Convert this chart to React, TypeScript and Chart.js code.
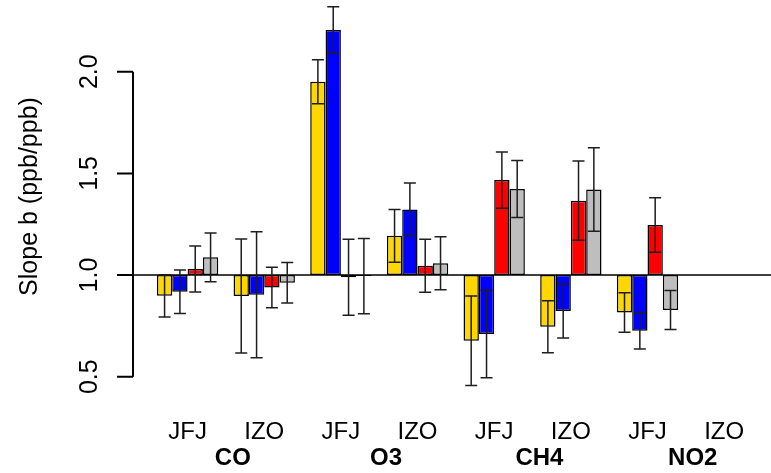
import React, { useEffect, useRef } from 'react';
import { Chart, registerables } from 'chart.js';

Chart.register(...registerables);

// ---- data ----
const stations = ['JFJ', 'IZO', 'JFJ', 'IZO', 'JFJ', 'IZO', 'JFJ', 'IZO'];
const species = ['CO', 'O3', 'CH4', 'NO2'];
const yTickValues = [0.5, 1.0, 1.5, 2.0];
const yTitle = 'Slope b (ppb/ppb)';
const baselineValue = 1.0;

const yellowSlope = [0.898, 0.897, 1.951, 1.193, 0.677, 0.746, 0.816, null];
const yellowErr = [0.104, 0.28, 0.108, 0.13, 0.22, 0.128, 0.097, null];
const blueSlope = [0.918, 0.903, 2.205, 1.323, 0.71, 0.823, 0.726, null];
const blueErr = [0.107, 0.31, 0.115, 0.13, 0.215, 0.133, 0.09, null];
const redSlope = [1.03, 0.939, 0.989, 1.046, 1.467, 1.366, 1.246, null];
const redErr = [0.113, 0.1, 0.187, 0.13, 0.138, 0.195, 0.134, null];
const greySlope = [1.087, 0.962, 0.995, 1.058, 1.423, 1.421, 0.828, null];
const greyErr = [0.12, 0.1, 0.185, 0.13, 0.14, 0.205, 0.096, null];

const seriesSlopes = [yellowSlope, blueSlope, redSlope, greySlope];
const seriesErrs = [yellowErr, blueErr, redErr, greyErr];
const seriesColors = ['#FFD700', '#0000FF', '#FF0000', '#BEBEBE'];

const FONT = "'Liberation Sans', Arial, Helvetica, sans-serif";

const overlayPlugin = {
  id: 'rOverlay',
  afterDatasetsDraw(chart: any) {
    const { ctx, chartArea } = chart;
    const xs = chart.scales.x;
    const ys = chart.scales.y;
    ctx.save();
    // reference line at 1.0
    const yb = ys.getPixelForValue(baselineValue);
    ctx.strokeStyle = '#000';
    ctx.lineWidth = 1.5;
    ctx.beginPath();
    ctx.moveTo(chartArea.left, yb);
    ctx.lineTo(chartArea.right, yb);
    ctx.stroke();
    // error bars
    ctx.strokeStyle = '#1e1e1e';
    ctx.lineWidth = 1.5;
    seriesSlopes.forEach((vals, di) => {
      const meta = chart.getDatasetMeta(di);
      vals.forEach((v, i) => {
        const e = seriesErrs[di][i];
        if (v == null || e == null) return;
        const el = meta.data[i];
        if (!el) return;
        const x = el.x;
        const yHi = ys.getPixelForValue(v + e);
        const yLo = ys.getPixelForValue(v - e);
        ctx.beginPath();
        ctx.moveTo(x, yHi);
        ctx.lineTo(x, yLo);
        ctx.moveTo(x - 6, yHi);
        ctx.lineTo(x + 6, yHi);
        ctx.moveTo(x - 6, yLo);
        ctx.lineTo(x + 6, yLo);
        ctx.stroke();
      });
    });
    ctx.restore();
  },
  afterDraw(chart: any) {
    const { ctx, chartArea } = chart;
    const xs = chart.scales.x;
    const ys = chart.scales.y;
    ctx.save();
    // y axis
    const ax = chartArea.left;
    const yTop = ys.getPixelForValue(yTickValues[yTickValues.length - 1]);
    const yBot = ys.getPixelForValue(yTickValues[0]);
    ctx.strokeStyle = '#000';
    ctx.lineWidth = 2;
    ctx.beginPath();
    ctx.moveTo(ax, yTop);
    ctx.lineTo(ax, yBot);
    yTickValues.forEach((t) => {
      const y = ys.getPixelForValue(t);
      ctx.moveTo(ax - 16, y);
      ctx.lineTo(ax, y);
    });
    ctx.stroke();
    ctx.fillStyle = '#000';
    ctx.font = `25px ${FONT}`;
    ctx.textAlign = 'center';
    ctx.textBaseline = 'alphabetic';
    yTickValues.forEach((t) => {
      const y = ys.getPixelForValue(t);
      ctx.save();
      ctx.translate(ax - 36, y);
      ctx.rotate(-Math.PI / 2);
      ctx.fillText(t.toFixed(1), 0, 0);
      ctx.restore();
    });
    // y title
    ctx.save();
    ctx.translate(37, (chartArea.top + chartArea.bottom) / 2);
    ctx.rotate(-Math.PI / 2);
    ctx.fillText(yTitle, 0, 0);
    ctx.restore();
    // station labels
    ctx.font = `24px ${FONT}`;
    stations.forEach((s, i) => {
      ctx.fillText(s, xs.getPixelForValue(i), chartArea.bottom + 46);
    });
    // species labels
    ctx.font = `bold 24px ${FONT}`;
    species.forEach((s, k) => {
      ctx.fillText(s, xs.getPixelForValue(2 * k + 0.59), chartArea.bottom + 72);
    });
    ctx.restore();
  },
};

export default function App() {
  const ref = useRef<HTMLCanvasElement | null>(null);
  useEffect(() => {
    if (!ref.current) return;
    const chart = new Chart(ref.current, {
      type: 'bar',
      data: {
        datasets: seriesSlopes.map((vals, di) => ({
          label: `series${di + 1}`,
          data: vals.map((v, i) => ({ x: i, y: v == null ? null : [baselineValue, v] })),
          backgroundColor: seriesColors[di],
          borderColor: '#000',
          borderWidth: 1.5,
          borderSkipped: false,
          categoryPercentage: 0.8,
          barPercentage: 1.0,
        })) as any,
      },
      options: {
        animation: false,
        responsive: false,
        events: [],
        layout: { padding: { left: 133, right: 0, top: 0, bottom: 80 } },
        plugins: { legend: { display: false }, tooltip: { enabled: false } },
        scales: {
          x: {
            type: 'linear',
            display: false,
            offset: false,
            min: -0.712,
            max: 7.611,
            ticks: { stepSize: 1, includeBounds: false },
            afterBuildTicks: (scale: any) => {
              scale.ticks = stations.map((_, i) => ({ value: i }));
            },
          },
          y: {
            type: 'linear',
            display: false,
            min: 0.42,
            max: 2.3527,
          },
        },
      },
      plugins: [overlayPlugin],
    });
    return () => chart.destroy();
  }, []);
  return (
    <div style={{ position: 'fixed', left: 0, top: 0, width: 771, height: 473, background: '#fff' }}>
      <canvas ref={ref} width={771} height={473} style={{ display: 'block' }} />
    </div>
  );
}
